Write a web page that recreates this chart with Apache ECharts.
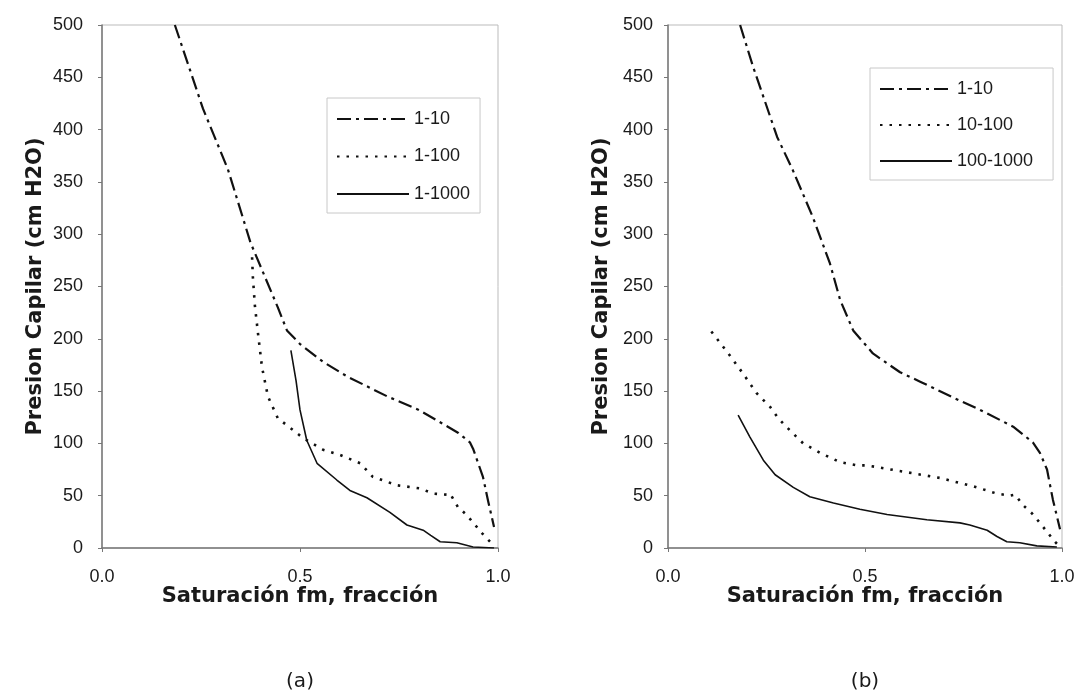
<!DOCTYPE html>
<html>
<head>
<meta charset="utf-8">
<script src="https://cdn.jsdelivr.net/npm/echarts@6/dist/echarts.min.js"></script>
<style>
  html, body { margin: 0; padding: 0; background: #fff; }
  #chart { width: 1079px; height: 696px; }
</style>
</head>
<body>
<div id="chart"></div>
<script>
// Capillary pressure curves: [saturation fraction, pressure cm H2O]
const panelALabels = ['1-10', '1-100', '1-1000'];
const panelBLabels = ['1-10', '10-100', '100-1000'];

const a_1_10 = [[0.184,500],[0.255,420],[0.318,362],[0.375,292],[0.444,230],[0.467,208],[0.50,195],[0.558,178],[0.619,164],[0.72,145],[0.80,132],[0.846,122],[0.90,110],[0.929,101],[0.937,95],[0.962,68],[0.975,45],[0.99,20]];
const a_1_100 = [[0.379,278],[0.381,259],[0.386,232],[0.394,205],[0.404,173],[0.419,145],[0.444,124],[0.475,115],[0.508,105],[0.558,94],[0.601,89],[0.652,81],[0.684,68],[0.745,60],[0.803,57],[0.836,52],[0.87,51],[0.879,52],[0.899,39],[0.92,32],[0.96,14],[0.98,6],[0.99,1]];
const a_1_1000 = [[0.477,189],[0.49,160],[0.50,132],[0.517,103],[0.543,81],[0.593,65],[0.626,55],[0.669,48],[0.727,34],[0.77,22],[0.811,17],[0.83,12],[0.854,6],[0.896,5],[0.937,1],[0.99,0]];

const b_1_10 = [[0.183,500],[0.216,460],[0.277,393],[0.317,361],[0.368,316],[0.411,272],[0.437,237],[0.47,208],[0.52,186],[0.589,168],[0.64,159],[0.723,144],[0.792,132],[0.85,121],[0.876,116],[0.926,101],[0.944,91],[0.962,75],[0.977,46],[0.995,18]];
const b_10_100 = [[0.11,207],[0.153,186],[0.19,167],[0.225,148],[0.259,135],[0.28,124],[0.30,116],[0.343,100],[0.386,91],[0.437,82],[0.48,79],[0.505,79],[0.597,73],[0.69,67],[0.774,59],[0.835,52],[0.868,50],[0.881,51],[0.901,41],[0.924,33],[0.944,24],[0.965,14],[0.982,6],[0.995,1]];
const b_100_1000 = [[0.178,127],[0.208,106],[0.242,84],[0.272,70],[0.318,58],[0.36,49],[0.42,43],[0.487,37],[0.556,32],[0.657,27],[0.741,24],[0.766,22],[0.81,17],[0.835,11],[0.86,6],[0.893,5],[0.936,2],[0.987,1]];

const xTitle = 'Saturación fm, fracción';
const yTitle = 'Presion Capilar (cm H2O)';
const panelTags = ['(a)', '(b)'];

const TEXT = '#1a1a1a';
const LINE = '#111';
const tickFont = { fontFamily: 'Liberation Sans, Arial, sans-serif', fontSize: 18, color: TEXT };
const titleFont = { fontFamily: '"DejaVu Sans", sans-serif', fontSize: 21, fontWeight: 'bold', color: TEXT };

const styles = [
  { type: [14, 5, 3, 5], width: 2.2 },   // dash-dot
  { type: [2.5, 7], width: 2.6 },        // dotted
  { type: 'solid', width: 1.6 }          // solid
];

function xAxisFor(idx) {
  return {
    gridIndex: idx, type: 'value', min: 0, max: 1, interval: 0.5,
    name: xTitle, nameLocation: 'middle', nameGap: 38, nameMoveOverlap: false,
    nameTextStyle: titleFont,
    axisLine: { show: true, lineStyle: { color: '#777', width: 1.5 } },
    axisTick: { show: true, length: 4, lineStyle: { color: '#777' } },
    axisLabel: Object.assign({ margin: 20, formatter: v => v.toFixed(1) }, tickFont),
    splitLine: { show: false }
  };
}
function yAxisFor(idx, margin) {
  return {
    gridIndex: idx, type: 'value', min: 0, max: 500, interval: 50,
    name: yTitle, nameLocation: 'middle', nameGap: 56,
    nameTextStyle: titleFont,
    axisLine: { show: true, lineStyle: { color: '#777', width: 1.5 } },
    axisTick: { show: true, length: 4, lineStyle: { color: '#777' } },
    axisLabel: Object.assign({ margin }, tickFont),
    splitLine: { show: false }
  };
}
function lineSeries(name, data, styleIdx, idx) {
  return {
    name, type: 'line', data, xAxisIndex: idx, yAxisIndex: idx,
    showSymbol: false, symbol: 'none', smooth: false, animation: false,
    lineStyle: Object.assign({ color: LINE }, styles[styleIdx]),
    itemStyle: { color: 'transparent', borderColor: 'transparent' }
  };
}
function legendFor(names, left, top, gap, padRight) {
  return {
    data: names, orient: 'vertical', left, top,
    padding: [12, padRight, 10, 9], itemGap: gap, itemWidth: 72, itemHeight: 14,
    backgroundColor: '#fff', borderColor: '#c8c8c8', borderWidth: 1,
    itemStyle: { opacity: 0 },
    textStyle: Object.assign({}, tickFont, { fontSize: 18 }),
    selectedMode: false
  };
}

const chart = echarts.init(document.getElementById('chart'), null, { renderer: 'canvas' });
chart.setOption({
  backgroundColor: '#fff',
  animation: false,
  grid: [
    { left: 102, top: 25, width: 396, height: 523, show: true, borderColor: '#bbb', borderWidth: 1, backgroundColor: 'transparent' },
    { left: 668, top: 25, width: 394, height: 523, show: true, borderColor: '#bbb', borderWidth: 1, backgroundColor: 'transparent' }
  ],
  xAxis: [xAxisFor(0), xAxisFor(1)],
  yAxis: [yAxisFor(0, 19), yAxisFor(1, 15)],
  legend: [legendFor(panelALabels, 327, 98, 19.5, 10), legendFor(panelBLabels, 870, 68, 18, 20)],
  series: [
    lineSeries(panelALabels[0], a_1_10, 0, 0),
    lineSeries(panelALabels[1], a_1_100, 1, 0),
    lineSeries(panelALabels[2], a_1_1000, 2, 0),
    lineSeries(panelBLabels[0], b_1_10, 0, 1),
    lineSeries(panelBLabels[1], b_10_100, 1, 1),
    lineSeries(panelBLabels[2], b_100_1000, 2, 1)
  ],
  graphic: [
    { type: 'text', x: 300, y: 682, style: { text: panelTags[0], textAlign: 'center', textVerticalAlign: 'middle', font: '20px "DejaVu Sans", sans-serif', fill: TEXT } },
    { type: 'text', x: 865, y: 682, style: { text: panelTags[1], textAlign: 'center', textVerticalAlign: 'middle', font: '20px "DejaVu Sans", sans-serif', fill: TEXT } }
  ]
});
</script>
</body>
</html>
